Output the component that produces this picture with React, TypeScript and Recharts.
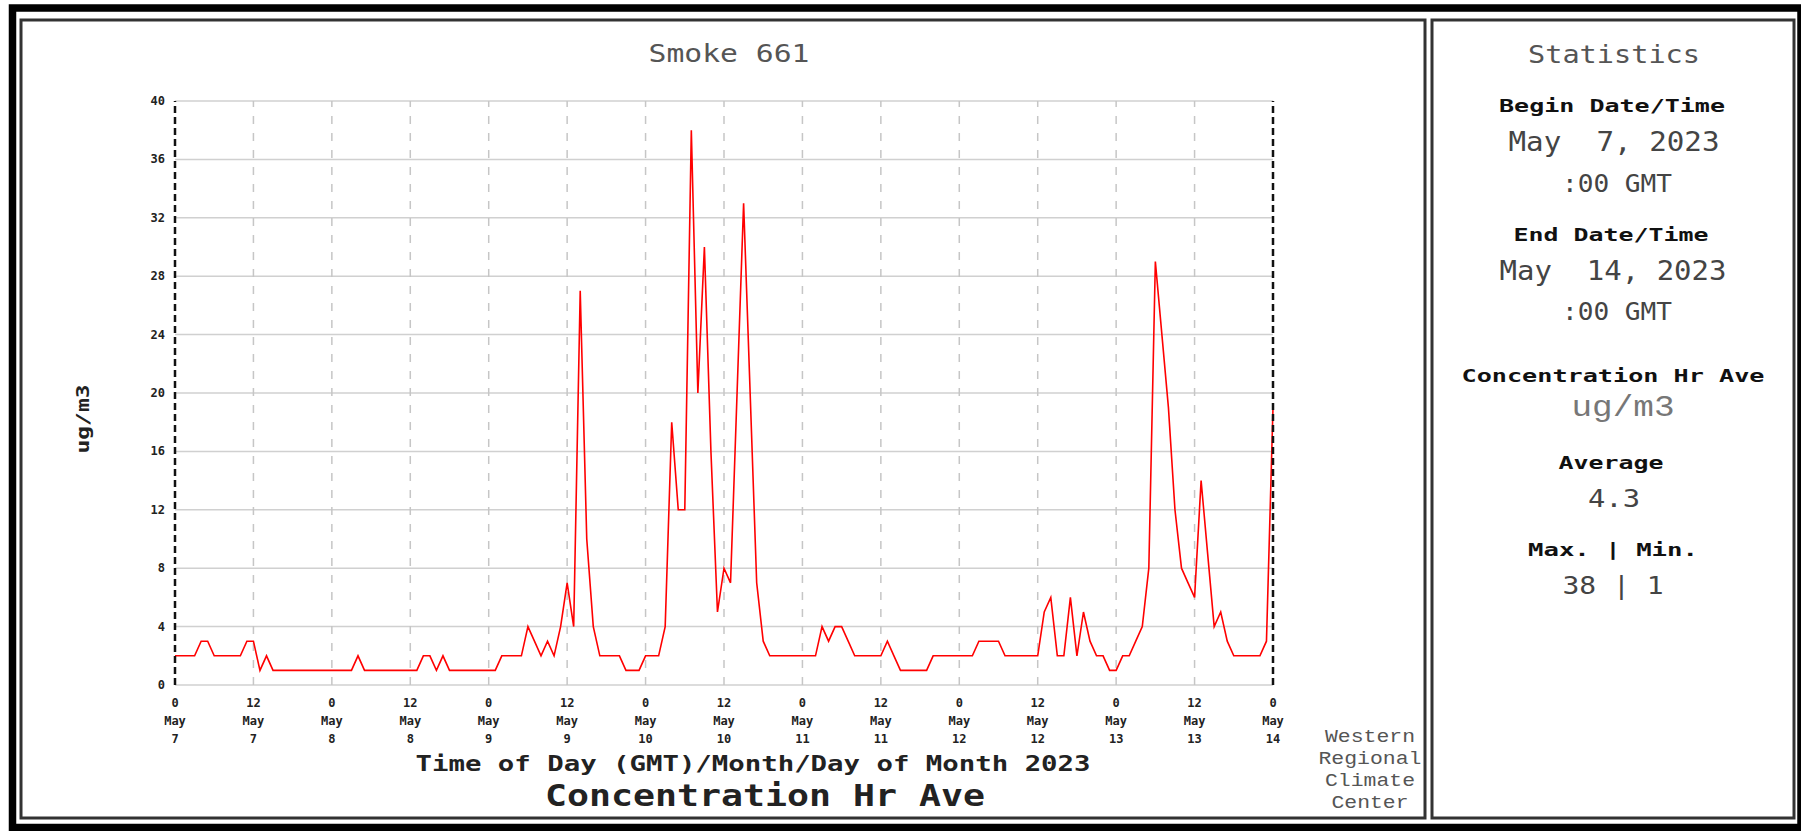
import React from 'react';
import { LineChart, Line, XAxis, YAxis, CartesianGrid, ReferenceLine } from 'recharts';

// hourly smoke concentration (ug/m3), one array per GMT day
const may7 = [2, 2, 2, 2, 3, 3, 2, 2, 2, 2, 2, 3, 3, 1, 2, 1, 1, 1, 1, 1, 1, 1, 1, 1];
const may8 = [1, 1, 1, 1, 2, 1, 1, 1, 1, 1, 1, 1, 1, 1, 2, 2, 1, 2, 1, 1, 1, 1, 1, 1];
const may9 = [1, 1, 2, 2, 2, 2, 4, 3, 2, 3, 2, 4, 7, 4, 27, 10, 4, 2, 2, 2, 2, 1, 1, 1];
const may10 = [2, 2, 2, 4, 18, 12, 12, 38, 20, 30, 16, 5, 8, 7, 20, 33, 20, 7, 3, 2, 2, 2, 2, 2];
const may11 = [2, 2, 2, 4, 3, 4, 4, 3, 2, 2, 2, 2, 2, 3, 2, 1, 1, 1, 1, 1, 2, 2, 2, 2];
const may12 = [2, 2, 2, 3, 3, 3, 3, 2, 2, 2, 2, 2, 2, 5, 6, 2, 2, 6, 2, 5, 3, 2, 2, 1];
const may13 = [1, 2, 2, 3, 4, 8, 29, 24, 19, 12, 8, 7, 6, 14, 9, 4, 5, 3, 2, 2, 2, 2, 2, 3];
const may14 = [19];

const xTicks = [0, 12, 24, 36, 48, 60, 72, 84, 96, 108, 120, 132, 144, 156, 168];
const yTicks = [0, 4, 8, 12, 16, 20, 24, 28, 32, 36, 40];
const dayLabels = ['7', '8', '9', '10', '11', '12', '13', '14'];

const concentration = [...may7, ...may8, ...may9, ...may10, ...may11, ...may12, ...may13, ...may14];
const data = concentration.map((value, hour) => ({ hour, value }));

const MONO = "'DejaVu Sans Mono', monospace";
const COURIER = "'Liberation Mono', monospace";

const XTick = (props: any) => {
  const { x, payload } = props;
  const h = payload.value;
  return (
    <text x={x} y={707} textAnchor="middle" fontFamily={MONO} fontWeight="bold" fontSize={12} fill="#222">
      <tspan x={x}>{h % 24 === 0 ? '0' : '12'}</tspan>
      <tspan x={x} dy={18}>May</tspan>
      <tspan x={x} dy={18}>{dayLabels[Math.floor(h / 24)]}</tspan>
    </text>
  );
};

const YTick = (props: any) => {
  const { y, payload } = props;
  return (
    <text x={165} y={y + 4} textAnchor="end" fontFamily={MONO} fontWeight="bold" fontSize={12} fill="#222">
      {payload.value}
    </text>
  );
};

// centred text squeezed/stretched to the measured width
const T = ({ x, y, w, size, bold, fill, family, children }: any) => (
  <text
    x={x}
    y={y}
    textAnchor="middle"
    fontSize={size}
    fontWeight={bold ? 'bold' : 'normal'}
    fill={fill}
    fontFamily={family || MONO}
    textLength={w}
    lengthAdjust="spacingAndGlyphs"
    style={{ whiteSpace: 'pre' }}
  >
    {children}
  </text>
);

export default function App() {
  return (
    <div style={{ position: 'absolute', left: 0, top: 0, width: 1801, height: 831, overflow: 'hidden', background: '#fff' }}>
      <svg width={1801} height={831} style={{ position: 'absolute', left: 0, top: 0 }}>
        <rect x={12.5} y={8} width={1788.5} height={819.5} fill="none" stroke="#000" strokeWidth={7.5} />
        <rect x={21} y={20} width={1404} height={798} fill="none" stroke="#333" strokeWidth={3} />
        <rect x={1432} y={20} width={362} height={798} fill="#fff" stroke="#333" strokeWidth={3} />

        <T x={729} y={62} w={161} size={24} fill="#555">Smoke 661</T>
        <text
          x={0}
          y={0}
          transform="translate(89 419) rotate(-90)"
          textAnchor="middle"
          fontSize={18}
          fontWeight="bold"
          fill="#222"
          fontFamily={MONO}
          textLength={69}
          lengthAdjust="spacingAndGlyphs"
        >
          ug/m3
        </text>
        <T x={753} y={771} w={675} size={21} bold fill="#222">Time of Day (GMT)/Month/Day of Month 2023</T>
        <T x={765} y={806} w={440} size={30} bold fill="#222">Concentration Hr Ave</T>

        <T x={1370} y={742} w={90} size={19} fill="#555" family={COURIER}>Western</T>
        <T x={1370} y={764} w={103} size={19} fill="#555" family={COURIER}>Regional</T>
        <T x={1370} y={786} w={90} size={19} fill="#555" family={COURIER}>Climate</T>
        <T x={1370} y={808} w={77} size={19} fill="#555" family={COURIER}>Center</T>

        <T x={1614} y={63} w={172} size={25} fill="#555">Statistics</T>
        <T x={1612} y={112} w={226} size={18} bold fill="#111">Begin Date/Time</T>
        <T x={1614} y={151} w={211} size={26} fill="#444">May  7, 2023</T>
        <T x={1617} y={192} w={110} size={24} fill="#444">:00 GMT</T>
        <T x={1611} y={241} w={195} size={18} bold fill="#111">End Date/Time</T>
        <T x={1613} y={280} w={227} size={26} fill="#444">May  14, 2023</T>
        <T x={1617} y={320} w={110} size={24} fill="#444">:00 GMT</T>
        <T x={1613} y={382} w={303} size={18} bold fill="#111">Concentration Hr Ave</T>
        <T x={1623} y={416} w={103} size={30} fill="#777" family={COURIER}>ug/m3</T>
        <T x={1611} y={469} w={105} size={18} bold fill="#111">Average</T>
        <T x={1614} y={507} w={52} size={24} fill="#444">4.3</T>
        <T x={1613} y={556} w={170} size={18} bold fill="#111">Max. | Min.</T>
        <T x={1613} y={594} w={101} size={24} fill="#444">38 | 1</T>
      </svg>

      <div style={{ position: 'absolute', left: 0, top: 0 }}>
        <LineChart width={1290} height={760} data={data} margin={{ top: 101, right: 17, bottom: 15, left: 0 }}>
          <CartesianGrid vertical={false} stroke="#d0d0d0" strokeWidth={1.5} />
          {xTicks.slice(1, -1).map((t) => (
            <ReferenceLine key={t} x={t} stroke="#c6c6c6" strokeWidth={1.5} strokeDasharray="8 9" />
          ))}
          <XAxis
            dataKey="hour"
            type="number"
            domain={[0, 168]}
            ticks={xTicks}
            interval={0}
            height={60}
            axisLine={false}
            tickLine={false}
            tick={<XTick />}
          />
          <YAxis
            type="number"
            domain={[0, 40]}
            ticks={yTicks}
            width={175}
            axisLine={false}
            tickLine={false}
            tick={<YTick />}
          />
          <Line type="linear" dataKey="value" stroke="#ff0000" strokeWidth={1.6} dot={false} isAnimationActive={false} />
          <ReferenceLine x={0} stroke="#111" strokeWidth={2.5} strokeDasharray="7 4" />
          <ReferenceLine x={168} stroke="#111" strokeWidth={2.5} strokeDasharray="7 4" />
        </LineChart>
      </div>
    </div>
  );
}
